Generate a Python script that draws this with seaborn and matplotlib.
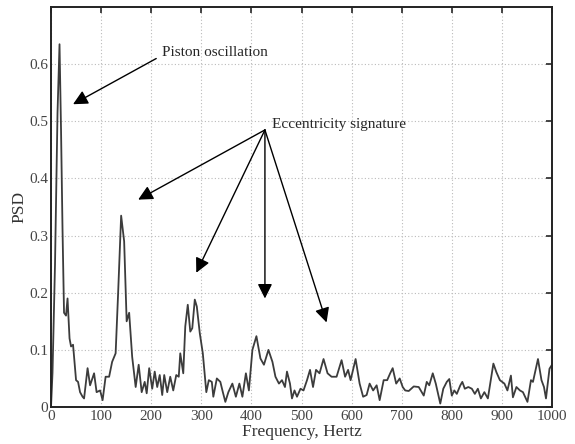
import matplotlib
matplotlib.use("Agg")
import matplotlib.pyplot as plt
import seaborn as sns

# PSD trace (frequency in Hz, PSD value)
freq = [0, 3, 8, 13, 17, 20, 23, 26, 30, 33, 37, 40, 44, 50, 54, 58, 63, 66, 73, 78,
        86, 91, 98, 103, 109, 116, 122, 129, 134, 140, 146, 151, 156, 162, 169, 175,
        181, 187, 191, 196, 202, 207, 212, 217, 222, 226, 232, 238, 244, 250, 255,
        258, 264, 268, 273, 278, 282, 287, 291, 297, 303, 310, 315, 321, 324, 331,
        338, 343, 348, 354, 362, 369, 376, 382, 389, 395, 402, 410, 418, 425, 434,
        442, 448, 455, 461, 467, 471, 477, 481, 486, 491, 498, 504, 511, 517, 523,
        529, 536, 544, 552, 560, 570, 580, 587, 593, 598, 608, 616, 623, 630, 636,
        643, 650, 656, 664, 671, 677, 682, 689, 696, 702, 707, 714, 724, 734, 744,
        750, 755, 762, 768, 777, 783, 790, 795, 800, 805, 810, 817, 821, 826, 833,
        840, 846, 852, 858, 865, 872, 883, 889, 896, 905, 911, 918, 922, 929, 936,
        942, 951, 958, 962, 972, 979, 984, 988, 995, 1000]
psd = [0.0, 0.06, 0.25, 0.515, 0.635, 0.486, 0.31, 0.165, 0.16, 0.19, 0.12, 0.106,
       0.109, 0.047, 0.044, 0.026, 0.018, 0.015, 0.068, 0.038, 0.059, 0.026, 0.029,
       0.012, 0.053, 0.053, 0.079, 0.094, 0.2, 0.335, 0.29, 0.15, 0.165, 0.088,
       0.035, 0.074, 0.026, 0.044, 0.024, 0.068, 0.032, 0.062, 0.035, 0.056, 0.021,
       0.056, 0.026, 0.053, 0.029, 0.056, 0.053, 0.094, 0.059, 0.141, 0.179, 0.132,
       0.138, 0.188, 0.176, 0.129, 0.094, 0.026, 0.047, 0.044, 0.018, 0.05, 0.044,
       0.026, 0.009, 0.026, 0.041, 0.018, 0.041, 0.018, 0.059, 0.029, 0.1, 0.124,
       0.085, 0.074, 0.1, 0.079, 0.053, 0.041, 0.047, 0.035, 0.062, 0.041, 0.015,
       0.029, 0.018, 0.032, 0.029, 0.047, 0.065, 0.035, 0.065, 0.059, 0.084, 0.059,
       0.053, 0.053, 0.082, 0.053, 0.065, 0.047, 0.084, 0.041, 0.018, 0.021, 0.041,
       0.029, 0.038, 0.012, 0.047, 0.047, 0.059, 0.068, 0.041, 0.05, 0.035, 0.029,
       0.028, 0.036, 0.035, 0.02, 0.044, 0.038, 0.059, 0.041, 0.006, 0.032, 0.044,
       0.049, 0.02, 0.029, 0.023, 0.038, 0.044, 0.032, 0.035, 0.032, 0.023, 0.032,
       0.015, 0.026, 0.015, 0.076, 0.061, 0.047, 0.041, 0.029, 0.055, 0.017, 0.035,
       0.029, 0.026, 0.009, 0.047, 0.044, 0.084, 0.047, 0.035, 0.015, 0.067, 0.074]

x_ticks = [0, 100, 200, 300, 400, 500, 600, 700, 800, 900, 1000]
y_ticks = [0, 0.1, 0.2, 0.3, 0.4, 0.5, 0.6]
y_tick_labels = ["0", "0.1", "0.2", "0.3", "0.4", "0.5", "0.6"]

# annotations: label, label position, arrow start, arrow tips
piston_label = "Piston oscillation"
piston_text_pos = (221, 0.62)
piston_start = (210, 0.61)
piston_tips = [(44, 0.53)]

ecc_label = "Eccentricity signature"
ecc_text_pos = (442, 0.495)
ecc_start = (427, 0.485)
ecc_tips = [(174, 0.363), (290, 0.235), (427, 0.19), (550, 0.148)]

sns.set_style("white")
plt.rcParams["font.family"] = ["Liberation Serif", "DejaVu Serif"]

fig = plt.figure(figsize=(5.75, 4.44), dpi=100)
ax = fig.add_axes([0.0887, 0.0833, 0.8713, 0.9007])

sns.lineplot(x=freq, y=psd, ax=ax, color="#3c3c3c", lw=1.3, sort=False)

ax.set_xlim(0, 1000)
ax.set_ylim(0, 0.7)
ax.set_xticks(x_ticks)
ax.set_xticklabels([str(t) for t in x_ticks])
ax.set_yticks(y_ticks)
ax.set_yticklabels(y_tick_labels)
ax.tick_params(direction="in", top=True, right=True, length=4, width=1.2,
               labelsize=11, labelcolor="#444444", pad=2)
ax.grid(True, linestyle=(0, (1, 2)), color="#bbbbbb", lw=0.8)
for s in ax.spines.values():
    s.set_color("#222222")
    s.set_linewidth(1.4)

ax.set_xlabel("Frequency, Hertz", fontsize=12.5, labelpad=1, color="#333333")
ax.set_ylabel("PSD", fontsize=12.5, labelpad=1, color="#333333")

arrow = dict(arrowstyle="-|>", mutation_scale=22, lw=1.0, color="black",
             shrinkA=0, shrinkB=0)
ax.text(*piston_text_pos, piston_label, fontsize=11, va="center", ha="left")
for tip in piston_tips:
    ax.annotate("", xy=tip, xytext=piston_start, arrowprops=arrow)

ax.text(*ecc_text_pos, ecc_label, fontsize=11, va="center", ha="left")
for tip in ecc_tips:
    ax.annotate("", xy=tip, xytext=ecc_start, arrowprops=arrow)

fig.savefig("out.png", dpi=100)
